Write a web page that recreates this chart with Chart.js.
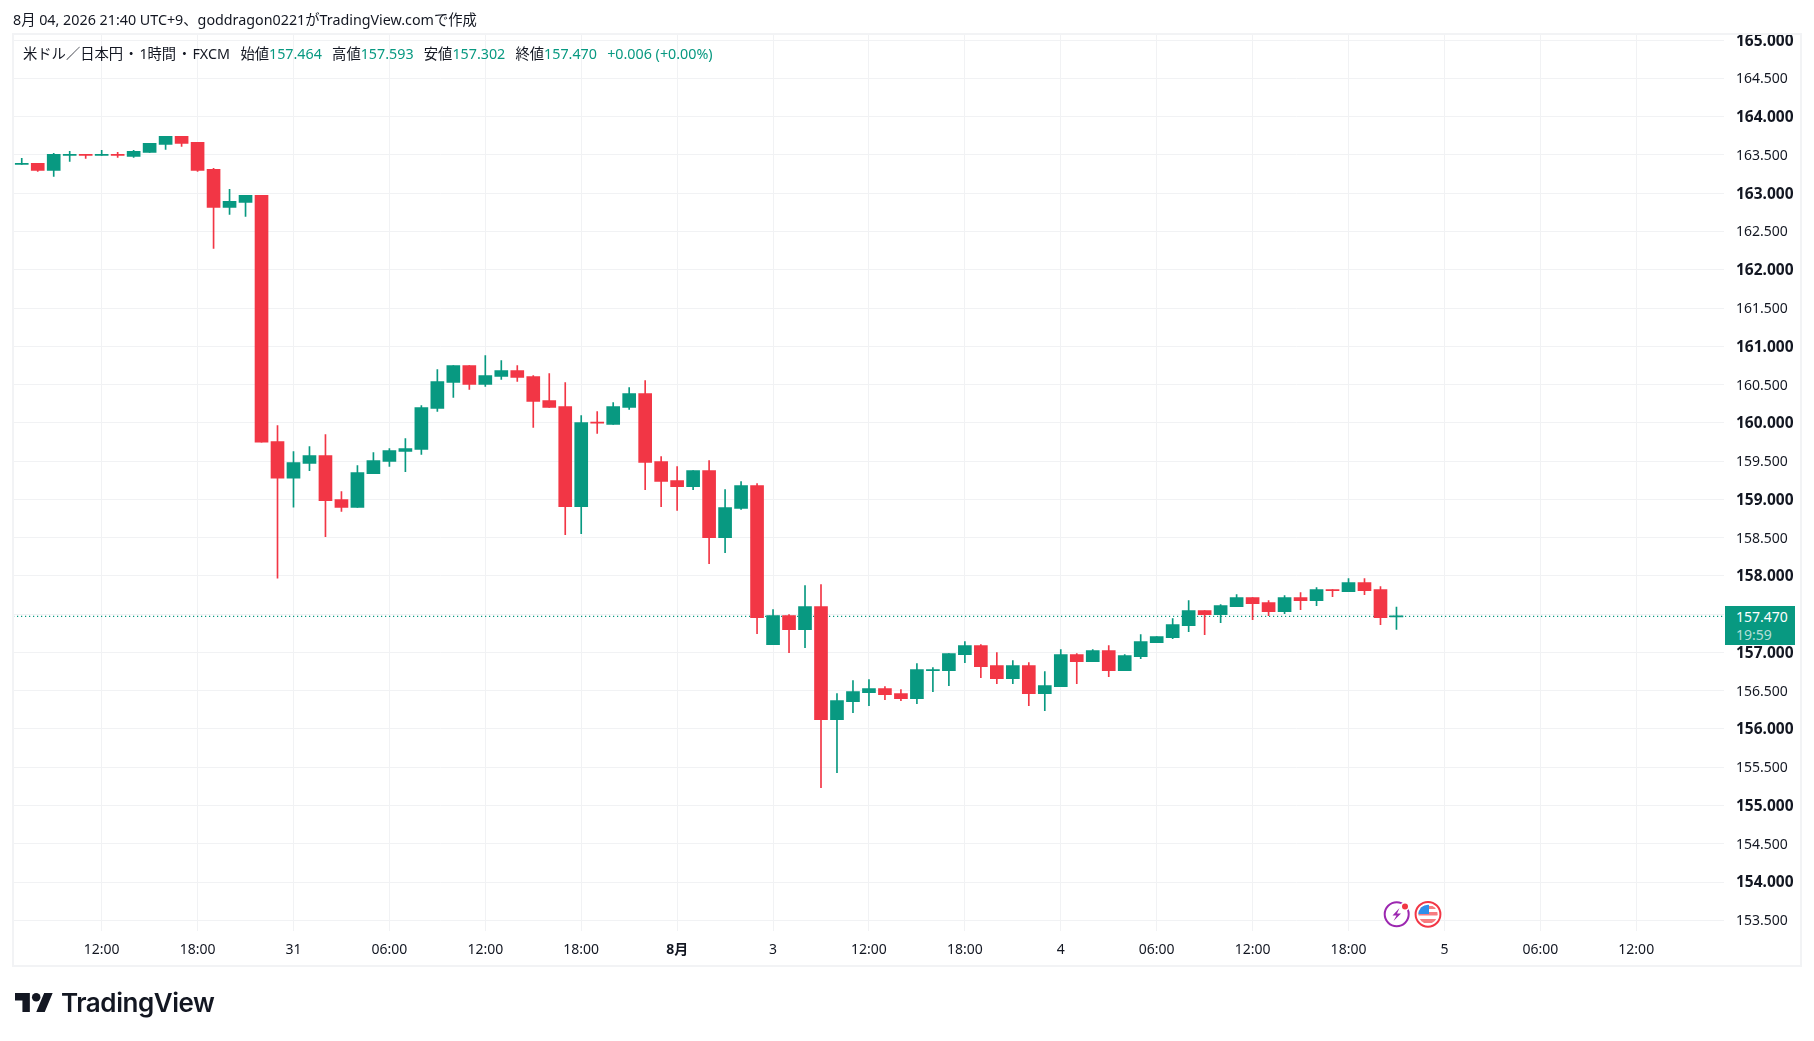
<!DOCTYPE html>
<html lang="ja">
<head>
<meta charset="utf-8">
<title>USD/JPY 1h</title>
<script src="https://cdn.jsdelivr.net/npm/chart.js@4"></script>
<style>
  html, body { margin: 0; padding: 0; background: #fff; }
  body { width: 1814px; height: 1041px; position: relative; overflow: hidden; font-family: "Noto Sans", "Noto Sans CJK JP", sans-serif; color: #131722; }
  canvas { position: absolute; left: 0; top: 0; }
  #frame { position: absolute; left: 12px; top: 33px; width: 1786px; height: 930px; border: 2px solid #f2f3f5; pointer-events: none; }
  #stamp { position: absolute; left: 13px; top: 10px; font-size: 14.3px; line-height: 20px; white-space: nowrap; }
  #legend { position: absolute; left: 23px; top: 44px; font-size: 14.3px; line-height: 20px; white-space: nowrap; }
  #legend b { font-weight: 400; color: #089981; margin-right: 10.2px; }
  #legend i { font-style: normal; margin: 0 1px; }
  #legend u { text-decoration: none; margin-left: 3px; }
  #badge { position: absolute; left: 1725px; top: 606px; width: 70px; height: 39px; background: #089981; color: #fff; font-size: 14px; line-height: 18px; }
  #badge div { padding-left: 11px; }
  #badge .first { padding-top: 2px; }
  #badge .count { color: rgba(255,255,255,.7); }
  #logo { position: absolute; left: 15px; top: 993px; width: 38.2px; height: 19.1px; }
  #logotext { position: absolute; left: 61px; top: 987px; font-family: Inter, sans-serif; font-weight: 600; font-size: 26px; line-height: 32px; color: #131722; letter-spacing: -.45px; white-space: nowrap; }
  #events { position: absolute; left: 1380px; top: 898px; }
</style>
</head>
<body>
<canvas id="chart" width="1814" height="1041"></canvas>
<div id="frame"></div>
<div id="stamp">8月 04, 2026 21:40 UTC+9、goddragon0221がTradingView.comで作成</div>
<div id="legend">米ドル／日本円<i>・</i>1時間<i>・</i>FXCM&nbsp; <u>始値</u><b>157.464</b>高値<b>157.593</b>安値<b>157.302</b>終値<b>157.470</b><b>+0.006 (+0.00%)</b></div>
<div id="badge"><div class="first">157.470</div><div class="count">19:59</div></div>
<svg id="logo" viewBox="0 4 36 18"><path fill="#131722" d="M14 22H7V11H0V4h14v18zM28 22h-8l7.5-18h8L28 22z"/><circle fill="#131722" cx="20" cy="8" r="4"/></svg>
<div id="logotext">TradingView</div>
<svg id="events" width="64" height="33" viewBox="0 0 64 33">
  <circle cx="16.7" cy="16.3" r="12" fill="#fff" stroke="#9c27b0" stroke-width="2"/>
  <path fill="#9c27b0" d="M19.5 10l-7 7.5h4l-3 5.5 7.5-7.5h-4z"/>
  <circle cx="25" cy="8.5" r="4.5" fill="#fff"/><circle cx="25" cy="8.5" r="3" fill="#f23645"/>
  <circle cx="48" cy="16.3" r="12.4" fill="#fff" stroke="#f23645" stroke-width="2"/>
  <clipPath id="flag"><circle cx="48" cy="16.3" r="9.6"/></clipPath>
  <g clip-path="url(#flag)">
    <rect x="38" y="6" width="20" height="21" fill="#fff"/>
    <rect x="38" y="8" width="20" height="3" fill="#f77c80"/>
    <rect x="38" y="14" width="20" height="3.5" fill="#f77c80"/>
    <rect x="38" y="21" width="20" height="4" fill="#f77c80"/>
    <rect x="38" y="6" width="11" height="10" fill="#2f8fea"/>
  </g>
</svg>
<script>
// hourly candles (oldest first)
const opens = [163.377,163.390,163.298,163.494,163.507,163.494,163.507,163.481,163.533,163.638,163.743,163.664,163.311,162.814,162.880,162.971,159.756,159.276,159.468,159.573,158.997,158.893,159.337,159.494,159.625,159.651,160.187,160.527,160.749,160.501,160.605,160.684,160.605,160.292,160.213,158.906,160.004,159.978,160.200,160.383,159.494,159.246,159.167,159.376,158.501,158.880,159.180,157.102,157.481,157.298,157.599,156.122,156.357,156.474,156.527,156.461,156.396,156.762,156.762,156.971,157.089,156.827,156.658,156.827,156.461,156.553,156.971,156.880,157.024,156.762,156.945,157.128,157.193,157.350,157.546,157.494,157.599,157.716,157.651,157.533,157.716,157.677,157.821,157.795,157.912,157.821,157.464];
const highs = [163.455,163.390,163.520,163.546,163.507,163.560,163.533,163.560,163.651,163.743,163.743,163.664,163.324,163.050,162.971,162.971,159.965,159.625,159.690,159.847,159.102,159.442,159.612,159.664,159.795,160.226,160.697,160.749,160.749,160.880,160.814,160.749,160.618,160.644,160.527,160.095,160.148,160.265,160.461,160.553,159.560,159.429,159.376,159.507,159.128,159.233,159.207,157.559,157.494,157.873,157.886,156.461,156.631,156.644,156.553,156.514,156.854,156.801,156.984,157.141,157.102,156.997,156.893,156.867,156.749,157.037,156.984,157.037,157.089,156.971,157.233,157.207,157.442,157.677,157.546,157.625,157.756,157.716,157.677,157.743,157.782,157.847,157.821,157.965,157.965,157.860,157.593];
const lows = [163.377,163.285,163.220,163.416,163.455,163.494,163.468,163.468,163.533,163.573,163.612,163.285,162.279,162.723,162.697,159.747,157.969,158.897,159.376,158.514,158.841,158.893,159.337,159.429,159.363,159.586,160.148,160.331,160.435,160.475,160.566,160.540,159.939,160.200,158.540,158.553,159.860,159.978,160.174,159.128,158.906,158.854,159.128,158.161,158.305,158.867,157.246,157.102,156.997,157.063,155.233,155.429,156.213,156.304,156.383,156.370,156.331,156.488,156.566,156.867,156.671,156.592,156.592,156.304,156.239,156.553,156.592,156.880,156.684,156.762,156.919,157.128,157.180,157.272,157.233,157.390,157.599,157.429,157.481,157.507,157.559,157.612,157.729,157.795,157.756,157.363,157.302];
const closes = [163.385,163.298,163.507,163.507,163.494,163.507,163.494,163.546,163.651,163.743,163.651,163.298,162.814,162.893,162.971,159.747,159.276,159.481,159.573,158.984,158.893,159.350,159.507,159.638,159.664,160.200,160.540,160.749,160.501,160.618,160.684,160.592,160.278,160.200,158.906,160.004,159.995,160.213,160.383,159.481,159.233,159.167,159.376,158.501,158.893,159.180,157.455,157.481,157.298,157.599,156.122,156.370,156.488,156.527,156.448,156.396,156.775,156.775,156.984,157.089,156.814,156.658,156.827,156.461,156.566,156.971,156.880,157.024,156.762,156.958,157.141,157.207,157.363,157.546,157.494,157.612,157.716,157.638,157.533,157.716,157.677,157.821,157.808,157.912,157.808,157.455,157.470];

const lastPrice = 157.470;
const priceTicks = [153.5,154,154.5,155,155.5,156,156.5,157,157.5,158,158.5,159,159.5,160,160.5,161,161.5,162,162.5,163,163.5,164,164.5,165];
const timeTickBars = [5,11,17,23,29,35,41,47,53,59,65,71,77,83,89,95,101];
const timeTickLabels = ["12:00","18:00","31","06:00","12:00","18:00","8月","3","12:00","18:00","4","06:00","12:00","18:00","5","06:00","12:00"];

const GREEN = "#089981";
const RED = "#f23645";
const GRID = "#f1f2f4";
const FONT = '"Noto Sans", "Noto Sans CJK JP", sans-serif';
const xMin = -0.547, xMax = 106.49;

const candleColors = closes.map((c, i) => (c >= opens[i] ? GREEN : RED));

new Chart(document.getElementById("chart"), {
  data: {
    datasets: [
      {
        type: "bar",
        order: 1,
        data: opens.map((o, i) => ({ x: i, y: [o, closes[i]] })),
        backgroundColor: candleColors,
        barThickness: 13,
        minBarLength: 1,
        grouped: false
      },
      {
        type: "bar",
        order: 2,
        data: lows.map((l, i) => ({ x: i, y: [l, highs[i]] })),
        backgroundColor: candleColors,
        barThickness: 1,
        grouped: false
      },
      {
        type: "line",
        order: 3,
        data: [{ x: xMin, y: lastPrice }, { x: xMax, y: lastPrice }],
        borderColor: GREEN,
        borderWidth: 1.2,
        borderDash: [1.2, 2.8],
        pointRadius: 0
      }
    ]
  },
  options: {
    responsive: false,
    animation: false,
    devicePixelRatio: 1,
    layout: { padding: { left: 13, top: 33, right: 0, bottom: 0 } },
    plugins: { legend: { display: false }, tooltip: { enabled: false } },
    scales: {
      x: {
        type: "linear",
        offset: false,
        min: xMin,
        max: xMax,
        afterBuildTicks: axis => { axis.ticks = timeTickBars.map(v => ({ value: v })); },
        afterFit: axis => { axis.height = 110.5; },
        border: { display: false },
        grid: { color: GRID, drawTicks: false, offset: false },
        ticks: {
          autoSkip: false,
          maxRotation: 0,
          padding: 11,
          color: "#131722",
          font: ctx => ({ family: FONT, size: 14, weight: timeTickLabels[ctx.index] === "8月" ? "bold" : "normal" }),
          callback: (value, index) => timeTickLabels[index]
        }
      },
      y: {
        type: "linear",
        position: "right",
        min: 153.367,
        max: 165.093,
        afterBuildTicks: axis => { axis.ticks = priceTicks.map(v => ({ value: v })); },
        afterFit: axis => { axis.width = 90; },
        border: { display: false },
        grid: { color: GRID, drawTicks: false },
        ticks: {
          autoSkip: false,
          padding: 12,
          labelOffset: 1,
          color: "#131722",
          font: ctx => ({ family: FONT, size: ctx.tick && Number.isInteger(ctx.tick.value) ? 15.5 : 14, weight: ctx.tick && Number.isInteger(ctx.tick.value) ? "bold" : "normal" }),
          callback: value => value.toFixed(3)
        }
      }
    }
  }
});
</script>
</body>
</html>
